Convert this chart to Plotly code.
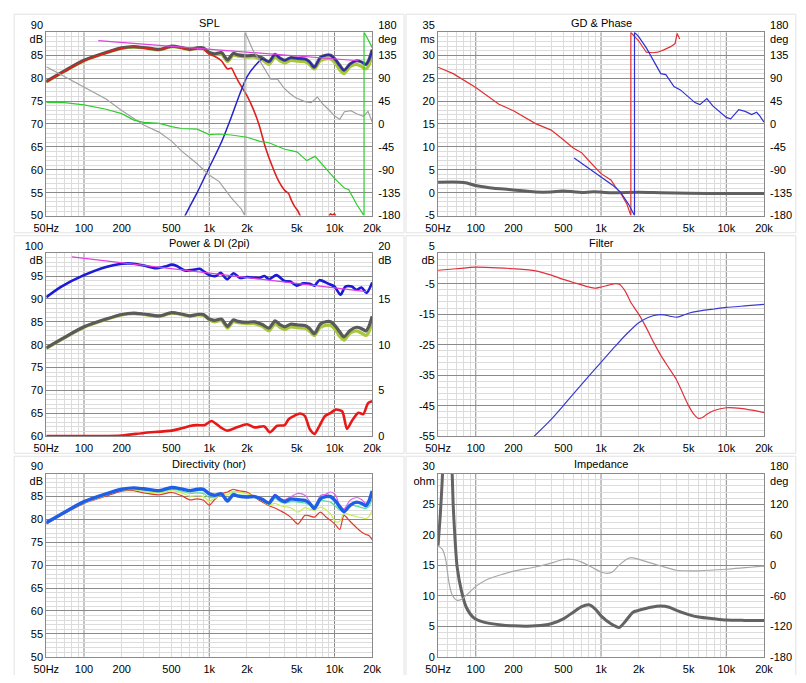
import math
import plotly.graph_objects as go

FONT = "Liberation Sans"
# the page body keeps the browser's default 8px margin; the figure fills the rest
OFF = 8
W, H = 806 - 2 * OFF, 683 - 2 * OFF

# ---------------- common axis data ----------------
X_TICKS = [50, 100, 200, 500, 1000, 2000, 5000, 10000, 20000]
X_TICKTEXT = ["50Hz", "100", "200", "500", "1k", "2k", "5k", "10k", "20k"]
X_MINOR = [60, 70, 80, 90, 200, 300, 400, 500, 600, 700, 800, 900,
           2000, 3000, 4000, 5000, 6000, 7000, 8000, 9000]
DECADES = [100, 1000, 10000]

# ---------------- SPL panel ----------------
F_SPL = [50, 70, 100, 150, 200, 250, 300, 400, 500, 600, 700, 800, 900, 1000, 1100,
         1250, 1400, 1550, 1700, 2000, 2300, 2650, 3000, 3350, 3700, 4000, 4500, 5100,
         5800, 6300, 6900, 7700, 8500, 9300, 10200, 11000, 11900, 13300, 15000, 16500,
         17800, 18800, 20000]
ON_AXIS = [79.3, 81.6, 83.9, 85.6, 86.6, 86.9, 86.7, 86.3, 87.0, 86.7, 86.3, 86.6, 86.6,
           85.6, 85.3, 85.6, 84.0, 85.4, 85.1, 84.9, 85.0, 84.4, 83.6, 85.2, 84.3, 83.9,
           84.5, 84.3, 84.2, 83.6, 82.4, 84.5, 85.0, 85.0, 84.0, 82.8, 81.7, 83.1, 83.8,
           83.5, 83.0, 84.0, 86.2]
LISTEN = [79.2, 81.5, 83.8, 85.5, 86.5, 86.8, 86.6, 86.2, 86.9, 86.6, 86.2, 86.5, 86.4,
          85.4, 85.0, 85.3, 83.6, 85.0, 84.8, 84.6, 84.6, 84.0, 83.0, 84.6, 83.7, 83.3,
          83.9, 83.7, 83.6, 83.0, 82.0, 83.8, 84.2, 84.2, 83.2, 81.8, 81.0, 82.5, 83.0,
          82.5, 82.0, 82.8, 85.0]
F_WOOF = [50, 70, 100, 150, 200, 250, 300, 400, 500, 600, 700, 800, 900, 1000, 1100,
          1250, 1400, 1500, 1600, 1750, 2000, 2250, 2500, 2800, 3200, 3600, 4000, 4300,
          4500, 4800, 5100, 5500, None, 8800, 9300, 9600, 10000, 10400]
WOOFER_SPL = [79.2, 81.5, 83.8, 85.5, 86.5, 86.8, 86.6, 86.2, 86.9, 86.6, 86.2, 86.5, 86.3,
              85.2, 84.8, 83.8, 82.0, 82.2, 80.8, 78.8, 76.2, 73.2, 69.8, 65.0, 60.6, 57.4,
              55.5, 54.8, 53.5, 52.0, 51.0, 49.0, None, 49.0, 50.4, 50.1, 50.4, 49.0]
F_TWEET = [600, 700, 800, 1000, 1250, 1500, 1750, 2000, 2300, 2650, 3000, 3350, 3700,
           4000, 4500, 5100, 5800, 6300, 6900, 7700, 8500, 9300, 10200, 11000, 11900,
           13300, 15000, 16500, 17800, 18800, 20000]
TWEETER_SPL = [48.5, 52.0, 55.0, 60.5, 66.0, 71.5, 76.5, 80.3, 82.6, 84.2, 83.6, 85.2,
               84.3, 83.9, 84.5, 84.3, 84.2, 83.6, 82.4, 84.5, 85.0, 85.0, 84.0, 82.8,
               81.7, 83.1, 83.8, 83.5, 83.0, 84.0, 86.2]
F_TARGET = [130, 15500]
TARGET_SPL = [88.2, 83.8]
F_PH_TOT = [50, 100, 150, 200, 300, 400, 500, 600, 800, 1000, 1200, 1500, 1800, 1925,
            1925, 2000, 2240, 2520, 2840, 3100, 3500, 3940, 4400, 4860, 5800, 6500, 7300,
            8000, 9000, 10000, 11000, 12000, 13500, 15000, 17000, 18500, 20000]
PH_TOT = [112.6, 72.5, 49, 26.7, -1.9, -16.5, -33.7, -52.8, -78.2, -100.5, -113.2, -145,
          -167, -180, 180, 172, 144, 125, 104, 88, 88, 71, 60, 52, 44, 42, 53, 40, 28, 16,
          9, 24, 26, 20, 15, 25, 4]
F_PH_TW = [50, 70, 100, 150, 200, 250, 300, 400, 500, 600, 800, 1000, 1200, 1500, 2000,
           2500, 3000, 4000, 5000, 6000, 7000, 8000, 10000, 12000, 13000, 15000, 17200,
           17200, 18000, 20000]
PH_TW = [42.6, 42, 37.5, 29, 20.3, 7.6, 3.2, 1.3, -5.1, -8.9, -10.2, -21, -19.7, -21.6,
         -26, -33.7, -36.9, -49.6, -54.7, -71.9, -63.6, -80.1, -106.8, -125.9, -129.1,
         -157.7, -180, 180, 172, 150]

# ---------------- GD & Phase panel ----------------
F_GD_RED = [50, 66, 100, 153, 200, 300, 400, 450, 500, 600, 700, 800, 1000, 1200, 1300,
            1430, 1610, 1730, 1730, 2000, 2300, 2600, 2840, 3200, 3600, 3900, 4050, 4250]
PH_GD_RED = [111.6, 98.9, 71.6, 38.7, 26, 0.7, -12, -21.5, -31, -47, -56.4, -72.2, -97.6,
             -110, -123, -135.6, -157.8, -180, 180, 163, 141, 140, 141, 146, 152, 158,
             178, 167]
F_GD_BLUE = [610, 800, 1000, 1230, 1430, 1660, 1850, 1850, 1990, 2300, 2670, 3000, 3290,
             3820, 4300, 5000, 5620, 6150, 7000, 7800, 10000, 10840, 12570, 14150, 15950,
             17450, 18500, 20000]
PH_GD_BLUE = [-67, -88, -105, -119.7, -133.7, -157.8, -180, 180, 172, 149.6, 121, 99, 97,
              73.5, 67, 52.6, 42, 38, 50, 35.5, 13, 10, 28, 24.7, 18.4, 23, 16, 3.8]
F_GD = [50, 75, 85, 100, 128, 200, 300, 400, 500, 600, 700, 870, 1200, 2000, 3000, 5000,
        10000, 20000]
GD_MS = [2.3, 2.3, 2.1, 1.55, 1.1, 0.6, 0.15, 0.15, 0.35, 0.2, 0.05, 0.2, 0.0, 0.1, 0.0,
         -0.1, -0.2, -0.2]

# ---------------- Power & DI panel ----------------
F_PWR = [50, 66, 100, 150, 200, 250, 300, 374, 448, 500, 551, 640, 765, 837, 1000, 1127,
         1233, 1387, 1563, 1762, 2000, 2520, 2755, 3000, 3438, 4000, 4436, 5000, 5627,
         6336, 6930, 7580, 8790, 10000, 11170, 12220, 13750, 15000, 16440, 18000, 20000]
POWER = [90.4, 92.7, 95.2, 97.0, 97.7, 97.7, 97.3, 96.7, 97.1, 97.5, 97.2, 96.2, 96.4,
         96.6, 95.2, 95.0, 95.7, 94.3, 95.6, 94.6, 94.8, 94.6, 95.0, 94.3, 95.2, 93.9,
         93.8, 92.9, 93.4, 93.3, 92.9, 94.1, 93.4, 92.7, 90.9, 92.7, 92.7, 92.0, 92.5,
         91.3, 93.6]
F_PWR_TARGET = [80, 18000]
PWR_TARGET = [99.2, 91.6]
F_DI = [50, 200, 300, 500, 600, 700, 800, 915, 1042, 1233, 1387, 1660, 2000, 2300, 2755,
        3050, 3490, 4000, 4300, 4840, 5300, 5800, 6336, 6930, 7580, 8400, 9340, 10200,
        11500, 12570, 13750, 15500, 16950, 18530, 20000]
DI = [0.0, 0.07, 0.35, 0.6, 0.85, 1.1, 1.2, 1.2, 1.66, 0.96, 0.6, 0.96, 1.3, 0.96, 1.06,
      0.42, 1.13, 1.2, 1.84, 2.27, 2.48, 2.2, 0.78, 0.25, 1.13, 2.2, 2.55, 2.9, 2.72, 0.78,
      1.66, 2.55, 2.4, 3.6, 3.8]

# ---------------- Filter panel ----------------
F_FLT_LP = [50, 70, 100, 150, 200, 300, 400, 500, 600, 700, 800, 900, 1000, 1150, 1300,
            1400, 1550, 1750, 2000, 2300, 2650, 3000, 3500, 4000, 4500, 5000, 5500, 6000,
            6500, 7000, 8000, 10000, 13000, 16000, 20000]
FLT_LP = [-0.6, -0.1, 0.4, 0.2, -0.1, -0.8, -2.2, -3.6, -4.6, -5.4, -6.1, -6.5, -6.1, -5.5,
          -5.0, -5.2, -7.3, -11.5, -15.0, -19.5, -24.5, -28.5, -32.8, -36.5, -41.0, -45.0,
          -47.8, -49.2, -48.8, -47.8, -46.6, -45.7, -45.9, -46.5, -47.3]
F_FLT_HP = [290, 400, 500, 700, 1000, 1300, 1600, 2000, 2400, 2800, 3200, 3600, 4000,
            4500, 5000, 6000, 8000, 10000, 14000, 20000]
FLT_HP = [-55.2, -49.5, -45, -38, -30.8, -25.5, -21.5, -17.8, -16, -15.2, -15.2, -15.7,
          -16.0, -15.4, -14.7, -14.0, -13.3, -12.8, -12.3, -11.8]

# ---------------- Directivity panel (same freq grid as F_SPL) ----------------
DIR_RED = [79.0, 81.3, 83.5, 85.1, 86.2, 86.3, 85.8, 85.4, 85.9, 85.2, 84.3, 84.5, 84.2,
           83.1, 84.3, 85.6, 86.0, 86.6, 86.3, 86.0, 84.9, 83.8, 83.0, 82.5, 81.9, 81.4,
           80.4, 79.0, 80.9, 80.8, 80.5, 81.6, 80.6, 79.8, 78.8, 77.8, 80.9, 79.6, 78.2,
           77.2, 76.7, 76.5, 75.6]
DIR_YEL = [79.1, 81.4, 83.6, 85.3, 86.4, 86.5, 86.1, 85.8, 86.3, 85.8, 85.1, 85.2, 85.0,
           84.0, 84.6, 85.4, 85.4, 86.2, 86.0, 85.6, 85.0, 84.1, 83.2, 83.5, 83.0, 82.8,
           82.5, 81.6, 82.6, 82.3, 82.0, 82.7, 82.2, 81.2, 79.5, 79.6, 81.4, 81.0, 80.6,
           80.4, 80.2, 80.6, 82.0]
DIR_GRN = [79.2, 81.5, 83.7, 85.4, 86.6, 86.7, 86.4, 86.0, 86.6, 86.2, 85.7, 85.8, 85.7,
           84.8, 84.9, 85.4, 84.6, 85.8, 85.4, 85.2, 85.0, 84.2, 83.3, 84.6, 83.8, 83.5,
           83.9, 83.8, 83.6, 83.2, 83.1, 84.2, 84.0, 83.8, 82.9, 82.0, 81.8, 83.1, 82.9,
           82.6, 82.4, 82.8, 84.5]
DIR_CYN = [79.3, 81.6, 83.8, 85.5, 86.7, 86.8, 86.6, 86.2, 86.9, 86.5, 86.1, 86.3, 86.3,
           85.3, 85.1, 85.5, 84.2, 85.4, 85.1, 84.9, 84.9, 84.3, 83.5, 85.0, 84.1, 83.8,
           84.3, 84.4, 84.0, 83.3, 82.6, 84.6, 84.8, 84.8, 83.8, 82.4, 81.6, 83.3, 83.6,
           83.4, 82.8, 83.6, 85.8]
DIR_MAG = [79.3, 81.6, 83.9, 85.6, 86.6, 86.9, 86.7, 86.3, 87.0, 86.7, 86.3, 86.6, 86.5,
           85.6, 85.3, 85.6, 84.1, 85.4, 85.2, 85.0, 85.0, 84.5, 83.7, 85.5, 84.6, 84.3,
           85.0, 85.7, 85.3, 84.0, 82.5, 85.2, 85.5, 86.0, 85.3, 83.0, 82.3, 84.2, 84.8,
           84.3, 83.5, 84.0, 86.0]

# ---------------- Impedance panel ----------------
F_Z = [50, 52, 54, 56, 58, 60, 62, 64, 66, 68, 71, 77, 84, 95, 114, 160, 200, 300, 400,
       500, 600, 700, 800, 900, 1000, 1200, 1400, 1550, 1800, 2000, 2500, 3000, 3500,
       4000, 5000, 6000, 8000, 10000, 14000, 20000]
Z_OHM = [18.2, 23, 29, 37, 45, 48, 43, 34, 25, 20, 14.7, 10.7, 8.1, 6.5, 5.7, 5.2, 5.05,
         5.05, 5.4, 6.2, 7.3, 8.2, 8.5, 7.8, 6.7, 5.4, 4.8, 5.7, 7.3, 7.6, 8.1, 8.3, 8.1,
         7.6, 6.9, 6.5, 6.2, 6.0, 5.95, 5.95]
F_ZP = [50, 54, 57.4, 60.9, 64.6, 70.6, 77.3, 84.1, 100, 121, 163, 200, 300, 400, 500,
        600, 700, 837, 1000, 1127, 1233, 1387, 1660, 1762, 2100, 3000, 4000, 5000, 6000,
        10000, 20000]
Z_PHASE = [38, 31.5, 12.4, -32, -57.6, -69, -67, -59, -41.7, -29, -18, -11.8, -3.5, 4.1,
           11.2, 11.2, 6, -3.5, -13.5, -16, -13.5, -0.3, 13.7, 15, 10, -1.6, -10, -11,
           -11, -8, -2]

# ---------------- layout geometry (window pixels) ----------------
COLS = [(34, 369.3), (437, 772.3)]
ROWS = [(19.7, 208.3), (247, 435.3), (474, 662.3)]
PANELS = [  # (col, row, title, left range, dtick, minor, left unit, right axis)
    (0, 0, "SPL", [50, 90], 5, 1, "dB", ([-180, 180], 45, "deg")),
    (1, 0, "GD & Phase", [-5, 35], 5, 1, "ms", ([-180, 180], 45, "deg")),
    (0, 1, "Power & DI (2pi)", [60, 100], 5, 1, "dB", ([0, 20], 5, "dB")),
    (1, 1, "Filter", [-55, 5], 10, 2, "dB", None),
    (0, 2, "Directivity (hor)", [50, 90], 5, 1, "dB", None),
    (1, 2, "Impedance", [0, 30], 5, 1, "ohm", ([-180, 180], 60, "deg")),
]

MAJOR = "#8a8a8a"
MINORC = "#dcdcdc"
FRAME = "#8a8a8a"
TFONT = dict(family=FONT, size=11, color="#000000")


def px(x):
    return (x - OFF) / W


def py(y):
    return 1 - (y - OFF) / H


def sfx(n):
    return "" if n == 1 else str(n)


def ticks_with_unit(lo, hi, step, unit):
    vals = list(range(int(lo), int(hi) + 1, int(step)))
    text = [str(v) for v in vals]
    text[-1] = text[-1] + "<br>" + unit
    return vals, text


fig = go.Figure()
layout = dict(
    width=W, height=H, margin=dict(l=0, r=0, t=0, b=0),
    paper_bgcolor="white", plot_bgcolor="rgba(0,0,0,0)", showlegend=False,
    font=TFONT, shapes=[], annotations=[],
)

sec_map = {}
next_sec = 7
for i, (c, r, title, yr, dt, mn, unit, right) in enumerate(PANELS, start=1):
    x0, x1 = COLS[c]
    y0, y1 = ROWS[r]
    xd = [px(x0), px(x1)]
    yd = [py(y1), py(y0)]
    s = sfx(i)
    layout[f"xaxis{s}"] = dict(
        type="log", range=[math.log10(50), math.log10(20000)], domain=xd,
        anchor=f"y{s}", tickmode="array", tickvals=X_TICKS, ticktext=X_TICKTEXT,
        showgrid=False, ticks="",
        minor=dict(tickmode="array", tickvals=X_MINOR, showgrid=True,
                   gridcolor=MINORC, ticks=""),
        showline=True, mirror=True, linecolor=FRAME, linewidth=1,
        zeroline=False, tickfont=TFONT, fixedrange=True, ticklabelstandoff=2,
    )
    tv, tt = ticks_with_unit(yr[0], yr[1], dt, unit)
    layout[f"yaxis{s}"] = dict(
        range=yr, tickmode="array", tickvals=tv, ticktext=tt, domain=yd,
        anchor=f"x{s}", showgrid=True, gridcolor=MAJOR, gridwidth=1, ticks="",
        minor=dict(tickmode="linear", tick0=yr[0], dtick=mn, showgrid=True,
                   gridcolor=MINORC, ticks=""),
        showline=True, mirror=True, linecolor=FRAME, linewidth=1,
        zeroline=False, tickfont=TFONT, fixedrange=True, ticklabelstandoff=0,
    )
    for d in DECADES:
        layout["shapes"].append(dict(
            type="line", xref=f"x{s}", yref="paper", x0=d, x1=d, y0=yd[0], y1=yd[1],
            line=dict(color=MAJOR, width=1), layer="below"))
    layout["annotations"].append(dict(
        text=title, xref="paper", yref="paper", x=px((x0 + x1) / 2),
        y=py(y0 - 10), xanchor="center", yanchor="middle",
        showarrow=False, font=TFONT))
    if right is not None:
        rr, rdt, runit = right
        rv, rt = ticks_with_unit(rr[0], rr[1], rdt, runit)
        layout[f"yaxis{next_sec}"] = dict(
            range=rr, tickmode="array", tickvals=rv, ticktext=rt,
            overlaying=f"y{s}", anchor=f"x{s}",
            side="right", showgrid=False, zeroline=False, ticks="",
            tickfont=TFONT, fixedrange=True, ticklabelstandoff=5,
        )
        sec_map[i] = f"y{next_sec}"
        next_sec += 1

PANEL_BOX = [(1, 402, 1, 226), (404, 805, 1, 226), (1, 402, 229, 453),
             (404, 805, 229, 453), (1, 402, 456, 682), (404, 805, 456, 682)]
for (a, b, c, d) in PANEL_BOX:
    layout["shapes"].append(dict(
        type="rect", xref="paper", yref="paper", x0=px(a), x1=px(b),
        y0=py(d), y1=py(c), line=dict(color="#e2e2e2", width=1), layer="below"))


def add(panel, x, y, color, width, secondary=False, spline=True):
    s = sfx(panel)
    fig.add_trace(go.Scatter(
        x=x, y=y, mode="lines", xaxis=f"x{s}",
        yaxis=sec_map[panel] if secondary else f"y{s}",
        line=dict(color=color, width=width,
                  shape="spline" if spline else "linear", smoothing=0.7),
        hoverinfo="skip", connectgaps=False))


# SPL
add(1, F_PH_TOT, PH_TOT, "#a0a0a0", 1.2, secondary=True, spline=False)
add(1, F_PH_TW, PH_TW, "#2ecc2e", 1.2, secondary=True, spline=False)
add(1, F_SPL, LISTEN, "#a8c83c", 3.2)
add(1, F_SPL, ON_AXIS, "#555555", 3.2)
add(1, F_WOOF, WOOFER_SPL, "#e02020", 1.6)
add(1, F_TWEET, TWEETER_SPL, "#2424c8", 1.5)
add(1, F_TARGET, TARGET_SPL, "#e040e0", 1.2, spline=False)

# GD & Phase
add(2, F_GD, GD_MS, "#606060", 3)
add(2, F_GD_RED, PH_GD_RED, "#e03030", 1.2, secondary=True, spline=False)
add(2, F_GD_BLUE, PH_GD_BLUE, "#3030d0", 1.2, secondary=True, spline=False)

# Power & DI
add(3, F_SPL, LISTEN, "#a8c83c", 3.2)
add(3, F_SPL, ON_AXIS, "#5a5a5a", 3.2)
add(3, F_PWR, POWER, "#1a1ad8", 2.6)
add(3, F_PWR_TARGET, PWR_TARGET, "#e040e0", 1.2, spline=False)
add(3, F_DI, DI, "#e81818", 2.6, secondary=True)

# Filter
add(4, F_FLT_LP, FLT_LP, "#e0303c", 1.2)
add(4, F_FLT_HP, FLT_HP, "#3a3ad0", 1.2)

# Directivity
add(5, F_SPL, DIR_RED, "#e03a2a", 1.2)
add(5, F_SPL, DIR_YEL, "#c8ee50", 1.2)
add(5, F_SPL, DIR_GRN, "#50e0a0", 1.2)
add(5, F_SPL, DIR_CYN, "#40d0f0", 1.2)
add(5, F_SPL, DIR_MAG, "#e060f0", 1.2)
add(5, F_SPL, ON_AXIS, "#1f5fe8", 3.4)

# Impedance
add(6, F_ZP, Z_PHASE, "#a8a8a8", 1.2, secondary=True)
add(6, F_Z, Z_OHM, "#636363", 3)

fig.update_layout(**layout)
fig.write_html("out.html", config={"displayModeBar": False, "staticPlot": True})
